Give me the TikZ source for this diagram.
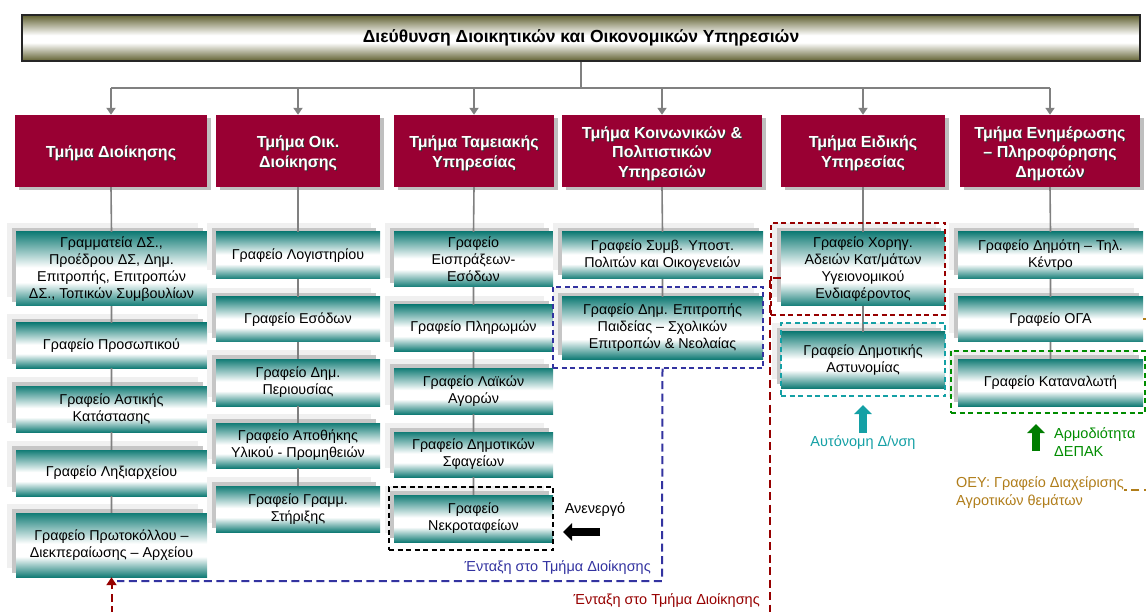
\documentclass[tikz,border=0pt]{standalone}
\usepackage{fontspec}
\setmainfont{Liberation Sans}
\usetikzlibrary{arrows.meta,shadows}
\definecolor{deptred}{RGB}{153,0,51}
\definecolor{tealc}{RGB}{18,124,118}
\definecolor{olivec}{RGB}{96,96,48}
\definecolor{linegray}{RGB}{128,128,128}
\definecolor{dblue}{RGB}{51,51,160}
\definecolor{dred}{RGB}{150,0,0}
\definecolor{dteal}{RGB}{20,160,165}
\definecolor{dgreen}{RGB}{0,140,0}
\definecolor{agreen}{RGB}{0,125,0}
\definecolor{dbrown}{RGB}{176,125,26}
\pgfdeclareverticalshading{officeshade}{100bp}{color(0bp)=(tealc); color(25bp)=(tealc); color(41bp)=(white); color(51bp)=(white); color(75bp)=(tealc); color(100bp)=(tealc)}
\pgfdeclareverticalshading{topshade}{100bp}{color(0bp)=(olivec); color(25bp)=(olivec); color(45bp)=(white); color(53bp)=(white); color(75bp)=(olivec); color(100bp)=(olivec)}
\newcommand\shtext[1]{\leavevmode\rlap{\kern1pt\raisebox{-1pt}{\textcolor{black!80}{#1}}}#1}
\newcommand\placebox[7]{\node[#1, minimum width={(#5-#3)*1pt}, minimum height={(#6-#4)*1pt}] (#2) at ({(#3+#5)/2},{(#4+#6)/2}) {#7};}
\newcommand\deptnode[6]{\node[deptbox, minimum width={(#4-#2)*1pt}, minimum height={(#5-#3)*1pt},
   label={[depttext, yshift=-3pt]center:{#6}}] (#1) at ({(#2+#4)/2},{(#3+#5)/2}) {};}
\tikzset{
  topbox/.style={shading=topshade, draw=black!85, line width=1.3pt, inner sep=0pt, font=\bfseries\fontsize{17.5}{20}\selectfont},
  deptbox/.style={fill=deptred, inner sep=0pt,
    general shadow={fill=gray!50, shadow xshift=4pt, shadow yshift=-3pt}},
  depttext/.style={text=white, align=center, inner sep=0pt, font=\bfseries\fontsize{16}{19.5}\selectfont},
  office/.style={shading=officeshade, align=center, inner sep=0pt, font=\fontsize{14.3}{17}\selectfont,
    general shadow={fill=gray!12, shadow xshift=-9pt, shadow yshift=9pt},
    general shadow={fill=gray!45, shadow xshift=-4pt, shadow yshift=4pt}},
  treeline/.style={draw=linegray, line width=2.4pt},
  conn/.style={draw=linegray, line width=1.6pt},
  dbox/.style={draw=#1, line width=1.4pt, dash pattern=on 5pt off 3.5pt, inner sep=0pt},
  pathdash/.style={draw=#1, line width=2pt, dash pattern=on 8pt off 4.5pt},
  note/.style={inner sep=0pt, font=\fontsize{14.5}{18}\selectfont},
  bigarrow/.style={draw=#1, line width=8pt, -{Triangle[width=17pt,length=9pt]}}
}
\begin{document}
\begin{tikzpicture}[x=1pt,y=-1pt]
\useasboundingbox (0,0) rectangle (1146,612);
% top
\placebox{topbox}{top}{22}{15}{1140}{61}{\raisebox{-1.5pt}{Διεύθυνση Διοικητικών και Οικονομικών Υπηρεσιών}}
% departments
\deptnode{d1}{15}{115}{207}{187}{\shtext{Τμήμα Διοίκησης}}
\deptnode{d2}{216}{115}{380}{187}{\shtext{Τμήμα Οικ.}\\\shtext{Διοίκησης}}
\deptnode{d3}{394}{115}{554}{187}{\shtext{Τμήμα Ταμειακής}\\\shtext{Υπηρεσίας}}
\deptnode{d4}{562}{115}{762}{187}{\shtext{Τμήμα Κοινωνικών \&}\\\shtext{Πολιτιστικών}\\\shtext{Υπηρεσιών}}
\deptnode{d5}{781}{115}{945}{187}{\shtext{Τμήμα Ειδικής}\\\shtext{Υπηρεσίας}}
\deptnode{d6}{960}{115}{1140}{187}{\shtext{Τμήμα Ενημέρωσης}\\\shtext{– Πληροφόρησης}\\\shtext{Δημοτών}}
% column 1
\placebox{office}{g1}{16}{232}{207}{306}{Γραμματεία ΔΣ.,\\Προέδρου ΔΣ, Δημ.\\Επιτροπής, Επιτροπών\\ΔΣ., Τοπικών Συμβουλίων}
\placebox{office}{g2}{16}{323}{207}{368}{Γραφείο Προσωπικού}
\placebox{office}{g3}{16}{386}{207}{432}{Γραφείο Αστικής\\Κατάστασης}
\placebox{office}{g4}{16}{450}{207}{496}{Γραφείο Ληξιαρχείου}
\placebox{office}{g5}{16}{513}{207}{577}{Γραφείο Πρωτοκόλλου –\\Διεκπεραίωσης – Αρχείου}
% column 2
\placebox{office}{o1}{216}{232}{380}{279}{Γραφείο Λογιστηρίου}
\placebox{office}{o2}{216}{297}{380}{342}{Γραφείο Εσόδων}
\placebox{office}{o3}{216}{359}{380}{406}{Γραφείο Δημ.\\Περιουσίας}
\placebox{office}{o4}{216}{423}{380}{468}{Γραφείο Αποθήκης\\Υλικού - Προμηθειών}
\placebox{office}{o5}{216}{486}{380}{532}{Γραφείο Γραμμ.\\Στήριξης}
% column 3
\placebox{office}{t1}{394}{232}{553}{287}{Γραφείο\\Εισπράξεων-\\Εσόδων}
\placebox{office}{t2}{394}{305}{553}{351}{Γραφείο Πληρωμών}
\placebox{office}{t3}{394}{368}{553}{414}{Γραφείο Λαϊκών\\Αγορών}
\placebox{office}{t4}{394}{432}{553}{477}{Γραφείο Δημοτικών\\Σφαγείων}
\placebox{office}{t5}{394}{495}{553}{542}{Γραφείο\\Νεκροταφείων}
% column 4
\placebox{office}{k1}{562}{232}{763}{279}{Γραφείο Συμβ. Υποστ.\\Πολιτών και Οικογενειών}
\placebox{office}{k2}{562}{297}{763}{359}{Γραφείο Δημ. Επιτροπής\\Παιδείας – Σχολικών\\Επιτροπών \& Νεολαίας}
% column 5
\placebox{office}{e1}{781}{232}{945}{306}{Γραφείο Χορηγ.\\Αδειών Κατ/μάτων\\Υγειονομικού\\Ενδιαφέροντος}
\placebox{office}{e2}{781}{332}{945}{388}{Γραφείο Δημοτικής\\Αστυνομίας}
% column 6
\placebox{office}{n1}{958}{232}{1143}{279}{Γραφείο Δημότη – Τηλ.\\Κέντρο}
\placebox{office}{n2}{958}{297}{1143}{342}{Γραφείο ΟΓΑ}
\placebox{office}{n3}{958}{359}{1143}{406}{Γραφείο Καταναλωτή}
% tree
\coordinate (bus) at (581,88);
\draw[treeline] (top.south) -- (bus);
\draw[treeline] (bus -| d1.north) -- (bus -| d6.north);
\foreach \d in {d1,d2,d3,d4,d5,d6}
  \draw[treeline, -{Triangle[width=9pt,length=7pt]}] (bus -| \d.north) -- (\d.north);
% office connectors
\draw[conn] (d1.south) -- (g1.north) (g1.south) -- (g2.north) (g2.south) -- (g3.north) (g3.south) -- (g4.north) (g4.south) -- (g5.north);
\draw[conn] (d2.south) -- (o1.north) (o1.south) -- (o2.north) (o2.south) -- (o3.north) (o3.south) -- (o4.north) (o4.south) -- (o5.north);
\draw[conn] (d3.south) -- (t1.north) (t1.south) -- (t2.north) (t2.south) -- (t3.north) (t3.south) -- (t4.north) (t4.south) -- (t5.north);
\draw[conn] (d4.south) -- (k1.north) (k1.south) -- (k2.north);
\draw[conn] (d5.south) -- (e1.north) (e1.south) -- (e2.north);
\draw[conn] (d6.south) -- (n1.north) (n1.south) -- (n2.north) (n2.south) -- (n3.north);
% dashed frames
\placebox{dbox=black}{nekrobox}{389}{487}{553}{550}{}
\placebox{dbox=dblue}{bluebox}{553}{287}{763}{368}{}
\placebox{dbox=dred}{redbox}{771}{223}{945}{315}{}
\placebox{dbox=dteal}{tealbox}{781}{323}{945}{396}{}
\placebox{dbox=dgreen}{greenbox}{951}{351}{1145}{413}{}
% blue path
\coordinate (bluecorner) at (662,581);
\coordinate (blueend) at (117,581);
\draw[pathdash=dblue] (k2.south |- bluebox.south) -- (bluecorner) -- (blueend);
\node[note, text=dblue, anchor=east] (bluelbl) at (651,568) {Ένταξη στο Τμήμα Διοίκησης};
% red path
\coordinate (redlow) at (770,624);
\draw[pathdash=dred, -{Triangle[width=10pt,length=8pt]}] ([yshift=-9pt]e1.west) -| (redlow) -| (g5.south);
\node[note, text=dred, anchor=east] (redlbl) at (760,601) {Ένταξη στο Τμήμα Διοίκησης};
% inactive
\node[note, anchor=center] (anen) at (595,510) {Ανενεργό};
\coordinate (ba1) at (600,532);
\coordinate (ba2) at (563,532);
\draw[bigarrow=black] (ba1) -- (ba2);
% autonomous
\coordinate (ta1) at (863,433);
\coordinate (ta2) at (863,405);
\draw[bigarrow=dteal] (ta1) -- (ta2);
\node[note, text=dteal] (auton) at (863,443) {Αυτόνομη Δ/νση};
% DEPAK
\coordinate (ga1) at (1036,451);
\coordinate (ga2) at (1036,424);
\draw[bigarrow=agreen] (ga1) -- (ga2);
\node[note, text=dgreen, anchor=west, align=left] (depak) at (1054,442) {Αρμοδιότητα\\ΔΕΠΑΚ};
% OEY
\node[note, text=dbrown, anchor=west, align=left] (oey) at (956,493) {ΟΕΥ: Γραφείο Διαχείρισης\\Αγροτικών θεμάτων};
\coordinate (brownR) at (1156,490);
\draw[pathdash=dbrown] (n2.east) -| (brownR) -- ([yshift=3pt]oey.east);
\end{tikzpicture}
\end{document}
